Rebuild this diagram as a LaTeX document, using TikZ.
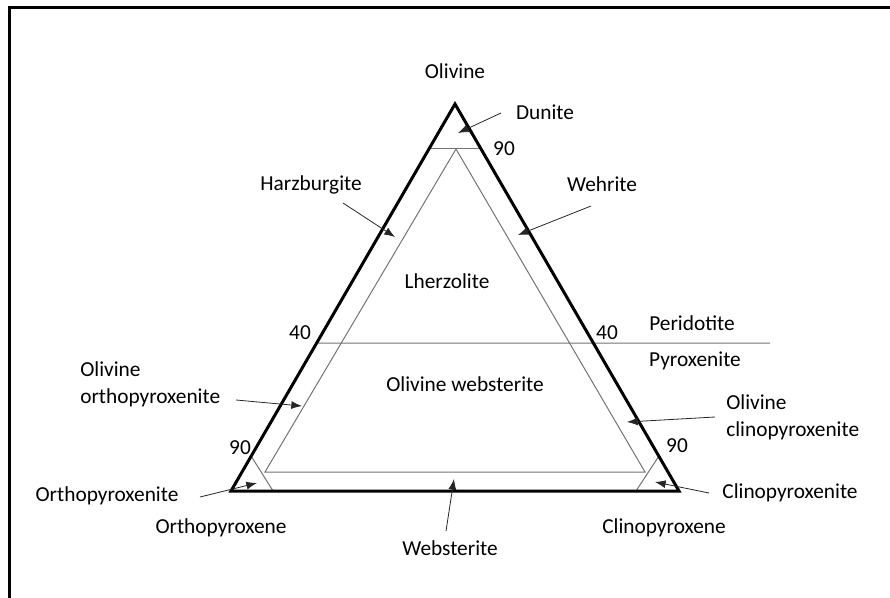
\documentclass[tikz,border=0pt]{standalone}
\usepackage{fontspec}
\setmainfont{Carlito}
\usetikzlibrary{arrows.meta,calc}
\tikzset{
	outer/.style={line width=2.25pt, line join=miter},
	thin/.style={line width=0.75pt, draw=black!55},
	pointer/.style={-{Latex[length=8pt,width=6pt]}, line width=0.6pt, draw=black!85},
	lbltwo/.style={inner sep=0pt, font=\fontsize{16}{20.5}\selectfont, align=left, anchor=west},
	lbl/.style={inner sep=0pt, text height=11pt, text depth=3.5pt, font=\fontsize{16}{20.5}\selectfont},
}

\begin{document}
\begin{tikzpicture}[x=0.75pt, y=-0.75pt]
\useasboundingbox (0,0) rectangle (890,597);
% the frame
\draw[line width=2.25pt] (9.5,605) -- (9.5,7) -- (900,7);

% the corners
\coordinate (ol) at (455,104);
\coordinate (opx) at (231,491);
\coordinate (cpx) at (679,491);
\coordinate (itop) at (456,149);
\coordinate (ibl) at (265,472);
\coordinate (ibr) at (645,472);

% the field lines
\draw[thin] ($(ol)!0.116!(opx)$) -- ($(ol)!0.116!(cpx)$);
\draw[thin] (itop) -- (ibl) -- (ibr) -- cycle;
\draw[thin] ($(opx)!0.09!(ol)$) -- ($(opx)!0.094!(cpx)$);
\draw[thin] ($(cpx)!0.09!(ol)$) -- ($(cpx)!0.096!(opx)$);
\coordinate (divl) at ($(opx)!0.382!(ol)$);
\coordinate (divr) at (770,343);
\draw[thin] (divl) -- (divr);
\draw[outer] (ol) -- (opx) -- (cpx) -- cycle;

%the names
\node[lbl] (olname) at (455,73) {Olivine};
\node[lbl] (opxname) at (221,528) {Orthopyroxene};
\node[lbl] (cpxname) at (664,528) {Clinopyroxene};
\node[lbl] (lhz) at (447,283) {Lherzolite};
\node[lbl] (olweb) at (465,386) {Olivine websterite};
\node[lbl] (perid) at (692,325) {Peridotite};
\node[lbl] (pyrox) at (695,361) {Pyroxenite};
\node[lbl] (ntop) at (504,150) {90};
\node[lbl] (nleft) at (240,449) {90};
\node[lbl] (nright) at (677,447) {90};
\node[lbl] (fleft) at (300,334) {40};
\node[lbl] (fright) at (607,334) {40};

\node[lbl] (dun) at (545,114) {Dunite};
\node[lbl] (harz) at (311,185) {Harzburgite};
\node[lbl] (wehr) at (602,186) {Wehrite};
\node[lbltwo] (olopx) at (80,384) {Olivine\\orthopyroxenite};
\node[lbltwo] (olcpx) at (726,417.5) {Olivine\\clinopyroxenite};
\node[lbl] (opxite) at (107,496) {Orthopyroxenite};
\node[lbl] (cpxite) at (790,493) {Clinopyroxenite};
\node[lbl] (web) at (450,550) {Websterite};

% the arrows
\coordinate (dunA) at (501,113);   \coordinate (dunB) at (458,133);
\coordinate (harzA) at (343,203);  \coordinate (harzB) at (395,237);
\coordinate (wehrA) at (591,206);  \coordinate (wehrB) at (518,235);
\coordinate (olopxA) at (236,400); \coordinate (olopxB) at (302,406);
\coordinate (olcpxA) at (715,417); \coordinate (olcpxB) at (627,422);
\coordinate (opxA) at (200,497);   \coordinate (opxB) at (257,483);
\coordinate (cpxA) at (709,493);   \coordinate (cpxB) at (655,482);
\coordinate (webA) at (446,531);   \coordinate (webB) at (454,479);
\foreach \a in {dun,harz,wehr,olopx,olcpx,opx,cpx,web}
	\draw[pointer] (\a A) -- (\a B);
\end{tikzpicture}
\end{document}
